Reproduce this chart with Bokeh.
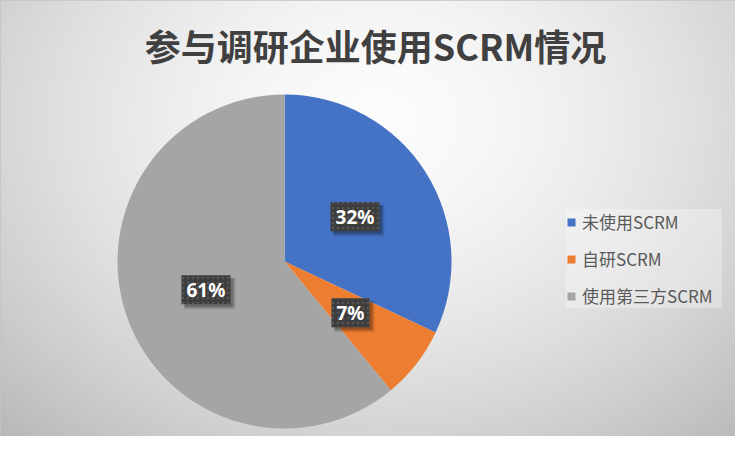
import numpy as np
from bokeh.plotting import figure
from bokeh.models import ColumnDataSource, Range1d
from bokeh.core.properties import value
from bokeh.embed import file_html
from bokeh.resources import INLINE

# ---- data ----
title_text = "参与调研企业使用SCRM情况"
categories = ["未使用SCRM", "自研SCRM", "使用第三方SCRM"]
shares = [32, 7, 61]
pct_labels = ["32%", "7%", "61%"]
colors = ["#4472C4", "#ED7D31", "#A5A5A5"]

W, H = 735, 436
p = figure(width=W, height=H, x_range=Range1d(0, W), y_range=Range1d(0, H),
           output_backend="svg", toolbar_location=None, min_border=0,
           x_axis_type=None, y_axis_type=None)
p.outline_line_color = "#c4c4c4"
p.outline_line_width = 2
p.grid.visible = False
p.background_fill_color = "#dcdcdc"
p.border_fill_color = "#dcdcdc"

# ---- radial gradient background ----
ys, xs = np.mgrid[0:H, 0:W]
refx = xs + 0.5
refy = H - ys - 0.5  # pixel y from top
cx, cy = 378.0, 120.0
r = np.sqrt(((refx - cx) / 430.0) ** 2 + ((refy - cy) / 340.0) ** 2)
g = np.clip(252 - 46 * np.clip(r, 0, 1.3) ** 1.6, 0, 255).astype(np.uint32)
img = (255 << 24) | (g << 16) | (g << 8) | g
p.image_rgba(image=[img.astype(np.uint32)], x=0, y=0, dw=W, dh=H)

# ---- pie ----
vals = np.array(shares, dtype=float)
total = vals.sum()
cum = np.cumsum(vals)
start_cw = (cum - vals) / total * 2 * np.pi
end_cw = cum / total * 2 * np.pi
cx_d, cy_d, R = 284.0, 175.0, 167.0
src = ColumnDataSource(dict(
    category=categories,
    start=list(np.pi / 2 - end_cw),
    end=list(np.pi / 2 - start_cw),
    color=colors,
))
p.wedge(x=cx_d, y=cy_d, radius=R, start_angle="start", end_angle="end",
        fill_color="color", line_color=None, legend_field="category", source=src)

# ---- data labels ----
mid = (start_cw + end_cw) / 2
lx = cx_d + 0.5 * R * np.sin(mid)
ly = cy_d + 0.5 * R * np.cos(mid)
bw = [11 * len(t) + 16 for t in pct_labels]
lsrc = ColumnDataSource(dict(x=list(lx), y=list(ly), sx=list(lx + 3), sy=list(ly - 3),
                             sx2=list(lx + 4), sy2=list(ly - 4),
                             w=bw, w2=[b + 2 for b in bw], t=pct_labels))
p.rect(x="sx2", y="sy2", width="w2", height=31, width_units="screen", height_units="screen",
       fill_color="black", fill_alpha=0.12, line_color=None, source=lsrc)
p.rect(x="sx", y="sy", width="w", height=29, width_units="screen", height_units="screen",
       fill_color="black", fill_alpha=0.25, line_color=None, source=lsrc)
p.rect(x="x", y="y", width="w", height=29, width_units="screen", height_units="screen",
       fill_color="#3d3d3d", line_color=None, hatch_pattern="dot", hatch_color="#565656",
       hatch_scale=5, hatch_weight=1.5, source=lsrc)
p.text(x="x", y="y", text="t", text_align="center", text_baseline="middle",
       text_color="white", text_font=value("Noto Sans"), text_font_style="bold",
       text_font_size="19px", source=lsrc)

# ---- title ----
p.text(x=[375], y=[392], text=[title_text], text_align="center", text_baseline="middle",
       text_color="#404040", text_font=value("Noto Sans CJK SC"), text_font_style="bold",
       text_font_size="36px")

# ---- legend ----
lg = p.legend[0]
lg.location = (566, 128)
lg.label_text_font = "Noto Sans CJK SC"
lg.label_text_font_size = "17px"
lg.label_text_color = "#595959"
lg.glyph_width = 10
lg.glyph_height = 10
lg.label_height = 22
lg.label_width = 140
lg.spacing = 12
lg.padding = 11
lg.label_standoff = 6
lg.margin = 0
lg.background_fill_color = "white"
lg.background_fill_alpha = 0.3
lg.border_line_color = None

open("out.html", "w").write(file_html(p, INLINE))
